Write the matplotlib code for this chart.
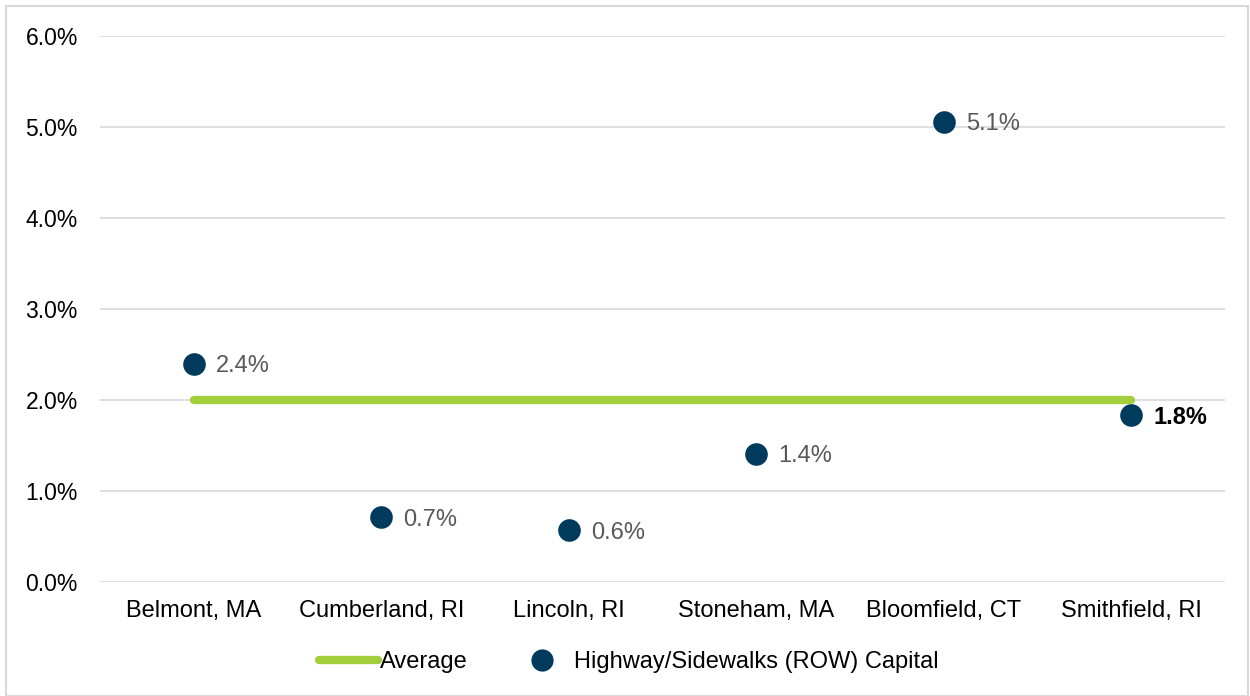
import matplotlib

matplotlib.use("Agg")
import matplotlib.pyplot as plt
from matplotlib.lines import Line2D
from matplotlib.patches import Rectangle
from matplotlib.ticker import FuncFormatter, MultipleLocator

plt.rcParams["font.family"] = ["Liberation Sans", "DejaVu Sans"]

towns = ["Belmont, MA", "Cumberland, RI", "Lincoln, RI",
         "Stoneham, MA", "Bloomfield, CT", "Smithfield, RI"]
row_capital = [2.40, 0.71, 0.57, 1.41, 5.06, 1.83]
average = [2.0, 2.0, 2.0, 2.0, 2.0, 2.0]

GREEN = "#a2cf3b"
NAVY = "#003a5d"
GRID = "#d9d9d9"
FS = 17

fig = plt.figure(figsize=(12.5, 6.96), dpi=100)
ax = fig.add_axes([0.08, 0.164, 0.90, 0.784])

x = list(range(len(towns)))
ax.plot(x, average, color=GREEN, linewidth=6, solid_capstyle="round", zorder=2)
ax.scatter(x, row_capital, s=265, color=NAVY, zorder=3, linewidths=0)

for i, v in enumerate(row_capital):
    bold = i == len(towns) - 1
    ax.annotate(f"{v:.1f}%", (i, v), xytext=(16, 0), textcoords="offset points",
                va="center_baseline", ha="left", fontsize=FS,
                color="black" if bold else "#595959",
                fontweight="bold" if bold else "normal")

ax.set_xlim(-0.5, len(towns) - 0.5)
ax.set_ylim(0, 6)
ax.yaxis.set_major_locator(MultipleLocator(1))
ax.yaxis.set_major_formatter(FuncFormatter(lambda v, _: f"{v:.1f}%"))
ax.set_xticks(x)
ax.set_xticklabels(towns)
ax.tick_params(axis="both", length=0, labelsize=FS, colors="black")
ax.tick_params(axis="y", labelsize=16.5, pad=16)
ax.tick_params(axis="x", pad=13)
ax.grid(axis="y", color=GRID, linewidth=1.2)
ax.set_axisbelow(True)
for s in ax.spines.values():
    s.set_visible(False)

handles = [
    Line2D([], [], color=GREEN, linewidth=6, solid_capstyle="round"),
    Line2D([], [], linestyle="none", marker="o", markersize=16,
           markerfacecolor=NAVY, markeredgewidth=0),
]
fig.legend(handles, ["Average", "Highway/Sidewalks (ROW) Capital"],
           loc="center", bbox_to_anchor=(0.503, 0.049), ncol=2, frameon=False,
           fontsize=FS, handlelength=2.5, handletextpad=0.1, columnspacing=1.9)

fig.patches.append(Rectangle((0.005, 0.0), 0.993, 0.991, transform=fig.transFigure,
                             fill=False, edgecolor=GRID, linewidth=1.5))

fig.savefig("out.png", dpi=100, facecolor="white")
